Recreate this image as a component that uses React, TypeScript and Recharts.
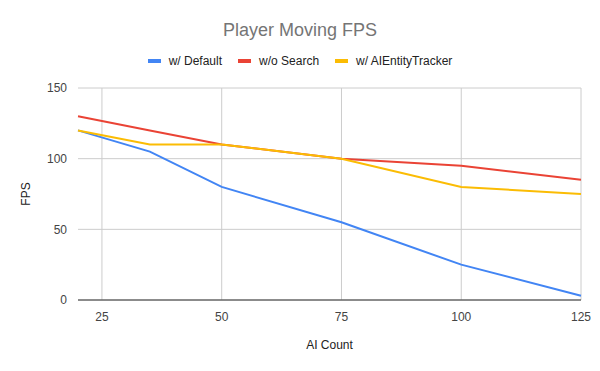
import { LineChart, Line, XAxis, YAxis, CartesianGrid, ReferenceLine } from 'recharts';

// AI 수
const aiCounts = [20, 35, 50, 75, 100, 125];
// 시리즈별 FPS
const withDefault = [120, 105, 80, 55, 25, 3];
const withoutSearch = [130, 120, 110, 100, 95, 85];
const withTracker = [120, 110, 110, 100, 80, 75];

const xTicks = [25, 50, 75, 100, 125];
const yTicks = [0, 50, 100, 150];

const series = [
  { key: 'def', name: 'w/ Default', color: '#4285f4' },
  { key: 'noSearch', name: 'w/o Search', color: '#ea4335' },
  { key: 'tracker', name: 'w/ AIEntityTracker', color: '#fbbc04' },
];

const data = aiCounts.map((x, i) => ({
  x,
  def: withDefault[i],
  noSearch: withoutSearch[i],
  tracker: withTracker[i],
}));

const font = '"Liberation Sans", Arial, sans-serif';

export default function App() {
  return (
    <div style={{ position: 'absolute', left: 0, top: 0, width: 600, height: 371, background: '#fff', fontFamily: font }}>
      <div style={{ position: 'absolute', top: 20, width: 600, textAlign: 'center', fontSize: 18, color: '#757575' }}>
        Player Moving FPS
      </div>
      <div style={{ position: 'absolute', top: 54, width: 600, display: 'flex', justifyContent: 'center', fontSize: 12, color: '#222' }}>
        {series.map((s) => (
          <div key={s.key} style={{ display: 'flex', alignItems: 'center', margin: '0 8px' }}>
            <span style={{ display: 'inline-block', width: 13, height: 4, background: s.color, marginRight: 8 }} />
            <span>{s.name}</span>
          </div>
        ))}
      </div>
      <LineChart width={600} height={371} data={data} margin={{ top: 88, right: 19, bottom: 41, left: 38 }}>
        {/* 가로 격자만, 세로선은 눈금마다 따로 */}
        <CartesianGrid stroke="#cccccc" vertical={false} />
        {xTicks.map((t) => (
          <ReferenceLine key={t} x={t} stroke="#cccccc" />
        ))}
        <XAxis
          dataKey="x"
          type="number"
          domain={[20, 125]}
          ticks={xTicks}
          height={30}
          tickLine={false}
          axisLine={{ stroke: '#333' }}
          tick={{ fontSize: 12, fill: '#444', fontFamily: font }}
          tickMargin={6}
        />
        <YAxis
          type="number"
          domain={[0, 150]}
          ticks={yTicks}
          width={40}
          tickLine={false}
          axisLine={false}
          tick={{ fontSize: 12, fill: '#444', fontFamily: font }}
          tickMargin={5}
        />
        {series.map((s) => (
          <Line
            key={s.key}
            dataKey={s.key}
            name={s.name}
            stroke={s.color}
            strokeWidth={2}
            dot={false}
            type="linear"
            isAnimationActive={false}
          />
        ))}
      </LineChart>
      <div style={{ position: 'absolute', top: 338, left: 78, width: 503, textAlign: 'center', fontSize: 12, color: '#222' }}>
        AI Count
      </div>
      <div style={{ position: 'absolute', left: 26, top: 194, transform: 'translate(-50%, -50%) rotate(-90deg)', fontSize: 12, color: '#222' }}>
        FPS
      </div>
    </div>
  );
}
